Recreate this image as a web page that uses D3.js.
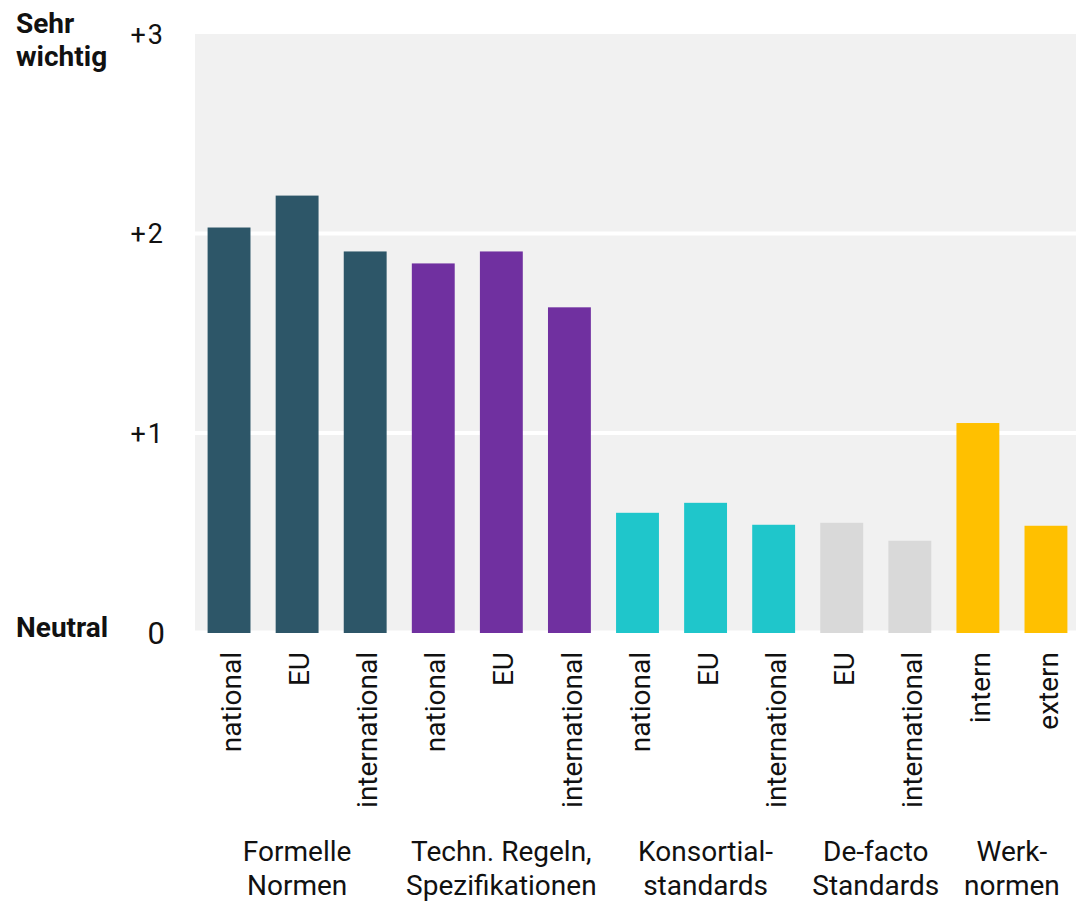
<!DOCTYPE html>
<html>
<head>
<meta charset="utf-8">
<script src="https://cdn.jsdelivr.net/npm/d3@7"></script>
<style>
  body { margin: 0; background: #fff; }
  text { font-family: Roboto, "Noto Sans", sans-serif; fill: #111; }
</style>
</head>
<body>
<div id="plot"></div>
<script>
var svgWidth = 1076;
var svgHeight = 903;

// data
var barLabels = ["national", "EU", "international", "national", "EU", "international",
  "national", "EU", "international", "EU", "international", "intern", "extern"];
var barValues = [2.03, 2.19, 1.91, 1.85, 1.91, 1.63, 0.60, 0.65, 0.54, 0.55, 0.46, 1.05, 0.535];
var barGroup = [0, 0, 0, 1, 1, 1, 2, 2, 2, 3, 3, 4, 4];
var groupLines = [["Formelle", "Normen"], ["Techn. Regeln,", "Spezifikationen"],
  ["Konsortial-", "standards"], ["De-facto", "Standards"], ["Werk-", "normen"]];
var groupColors = ["#2d5668", "#7030a0", "#1fc6cb", "#d9d9d9", "#ffc000"];
var yTicks = [0, 1, 2, 3];
var yTickLabels = ["0", "+1", "+2", "+3"];

var svg = d3.select("#plot")
  .append("svg")
  .attr("width", svgWidth)
  .attr("height", svgHeight);

var xScale = d3.scaleBand()
  .domain(d3.range(barValues.length))
  .range([195, 1080])
  .paddingInner(0.37)
  .paddingOuter(0.185);

var yScale = d3.scaleLinear()
  .domain([0, 3])
  .range([632.5, 34]);

// grey plot background
svg.append("rect")
  .attr("x", 195)
  .attr("y", yScale(3))
  .attr("width", svgWidth - 195)
  .attr("height", yScale(0) - yScale(3) - 2)
  .attr("fill", "#f1f1f1");

// white gridlines
svg.append("g")
  .selectAll("line")
  .data([1, 2])
  .enter()
  .append("line")
  .attr("x1", 195)
  .attr("x2", svgWidth)
  .attr("y1", d => yScale(d))
  .attr("y2", d => yScale(d))
  .attr("stroke", "#fff")
  .attr("stroke-width", 4);

// bars
svg.append("g")
  .selectAll("rect")
  .data(barValues)
  .enter()
  .append("rect")
  .attr("x", (d, i) => xScale(i))
  .attr("y", d => yScale(d))
  .attr("width", xScale.bandwidth())
  .attr("height", d => yScale(0) - yScale(d) + 0.5)
  .attr("fill", (d, i) => groupColors[barGroup[i]]);

// y tick labels
svg.append("g")
  .selectAll("text")
  .data(yTicks)
  .enter()
  .append("text")
  .attr("x", 165)
  .attr("y", d => yScale(d))
  .attr("dy", "0.36em")
  .attr("text-anchor", "end")
  .attr("font-size", d => d === 0 ? "31px" : "27px")
  .attr("letter-spacing", d => d === 0 ? "0px" : "2px")
  .text((d, i) => yTickLabels[i]);

// side labels
svg.append("text")
  .attr("x", 16)
  .attr("y", 33)
  .attr("font-size", "28px")
  .attr("font-weight", "bold")
  .text("Sehr");
svg.append("text")
  .attr("x", 16)
  .attr("y", 66)
  .attr("font-size", "28px")
  .attr("font-weight", "bold")
  .text("wichtig");
svg.append("text")
  .attr("x", 16)
  .attr("y", 637)
  .attr("font-size", "28px")
  .attr("font-weight", "bold")
  .text("Neutral");

// rotated bar labels
svg.append("g")
  .selectAll("text")
  .data(barLabels)
  .enter()
  .append("text")
  .attr("transform", (d, i) => `translate(${xScale(i) + xScale.bandwidth() / 2 + 2}, 652) rotate(-90)`)
  .attr("dy", "0.36em")
  .attr("text-anchor", "end")
  .attr("font-size", "28px")
  .text(d => d);

// group labels, centred under their bars
var groups = svg.append("g");
groupLines.forEach(function(lines, g) {
  var idx = d3.range(barValues.length).filter(i => barGroup[i] === g);
  var cx = (xScale(idx[0]) + xScale(idx[idx.length - 1]) + xScale.bandwidth()) / 2;
  lines.forEach(function(line, k) {
    groups.append("text")
      .attr("x", cx)
      .attr("y", 861 + k * 34)
      .attr("text-anchor", "middle")
      .attr("font-size", "28px")
      .text(line);
  });
});
</script>
</body>
</html>
